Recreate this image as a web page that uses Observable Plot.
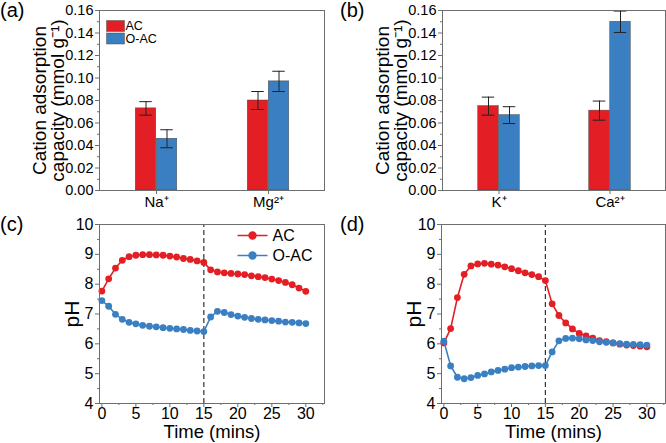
<!DOCTYPE html>
<html>
<head>
<meta charset="utf-8">
<script src="https://cdn.jsdelivr.net/npm/d3@7"></script>
<script src="https://cdn.jsdelivr.net/npm/@observablehq/plot@0.6"></script>
<style>
  html, body { margin: 0; padding: 0; background: #fff; }
  #wrap { position: relative; width: 666px; height: 443px; background: #fff; overflow: hidden;
          font-family: "Liberation Sans", Arial, sans-serif; }
  .panel { position: absolute; }
  .letter { position: absolute; font-size: 20px; color: #000; line-height: 1; }
</style>
</head>
<body>
<div id="wrap"></div>
<script>
// ---------- data ----------
const seriesNames = ["AC", "O-AC"];
const seriesColors = ["#e31e24", "#3a7fc1"];

// panel (a)
const ionsA = ["Na⁺", "Mg²⁺"];
const acA = [0.073, 0.080];
const acAErr = [0.006, 0.008];
const oacA = [0.046, 0.097];
const oacAErr = [0.008, 0.009];

// panel (b)
const ionsB = ["K⁺", "Ca²⁺"];
const acB = [0.075, 0.071];
const acBErr = [0.008, 0.0085];
const oacB = [0.067, 0.150];
const oacBErr = [0.0075, 0.0095];

const barYDomain = [0, 0.16];
const barYTicks = [0, 0.02, 0.04, 0.06, 0.08, 0.10, 0.12, 0.14, 0.16];
const barYMinor = [0.01, 0.03, 0.05, 0.07, 0.09, 0.11, 0.13, 0.15];

// panels (c), (d)
const time = [0,1,2,3,4,5,6,7,8,9,10,11,12,13,14,15,16,17,18,19,20,21,22,23,24,25,26,27,28,29,30];
const phC_AC  = [7.77,8.18,8.54,8.80,8.92,8.97,8.99,8.99,8.98,8.97,8.94,8.91,8.86,8.83,8.78,8.73,8.48,8.41,8.38,8.36,8.34,8.32,8.28,8.25,8.22,8.17,8.12,8.06,7.98,7.87,7.76];
const phC_OAC = [7.45,7.26,6.99,6.82,6.72,6.67,6.62,6.59,6.57,6.54,6.52,6.50,6.48,6.45,6.43,6.41,6.90,7.09,7.05,6.98,6.93,6.89,6.85,6.82,6.80,6.78,6.76,6.73,6.72,6.70,6.68];
const phD_AC  = [6.03,6.51,7.55,8.33,8.61,8.68,8.70,8.67,8.64,8.58,8.52,8.45,8.38,8.32,8.25,8.12,7.34,6.95,6.70,6.50,6.35,6.27,6.19,6.11,6.07,6.03,5.99,5.96,5.94,5.92,5.90];
const phD_OAC = [6.09,5.26,4.88,4.83,4.87,4.94,4.99,5.06,5.11,5.15,5.20,5.22,5.24,5.26,5.27,5.27,5.73,6.10,6.18,6.19,6.17,6.13,6.11,6.07,6.05,6.03,6.01,5.99,5.98,5.97,5.96];

const switchTime = [15];
const phDomain = [4, 10];
const phTicks = [4, 5, 6, 7, 8, 9, 10];
const phMinor = [4.5, 5.5, 6.5, 7.5, 8.5, 9.5];
const timeDomain = [-0.35, 32.75];
const timeTicks = [0, 5, 10, 15, 20, 25, 30];
const timeMinor = [2.5, 7.5, 12.5, 17.5, 22.5, 27.5, 32.5];

const barTitle = "Cation adsorption\ncapacity (mmol g⁻¹)";
const lineYTitle = "pH";
const lineXTitle = "Time (mins)";

// ---------- helpers ----------
const FONT = '"Liberation Sans", Arial, sans-serif';
const AXIS_GRAY = "#6e6e6e";
const wrap = document.getElementById("wrap");

function place(node, left, top) {
  const d = document.createElement("div");
  d.className = "panel";
  d.style.left = left + "px";
  d.style.top = top + "px";
  d.appendChild(node);
  wrap.appendChild(d);
}
function letter(txt, left, top) {
  const s = document.createElement("div");
  s.className = "letter";
  s.textContent = txt;
  s.style.left = left + "px";
  s.style.top = top + "px";
  wrap.appendChild(s);
}

const swatchSymbol = { draw(ctx) { ctx.rect(-9, -5.5, 18, 11); } };
const lineDotSymbol = { draw(ctx) { ctx.moveTo(-15, 0); ctx.lineTo(15, 0); ctx.moveTo(3.4, 0); ctx.arc(0, 0, 3.4, 0, 2 * Math.PI); } };

function barPanel(ions, ac, acErr, oac, oacErr, ml, mr, withLegend) {
  const W = 333, H = 220, mt = 10, mb = 30;
  const bw = (W - ml - mr) / ions.length;
  const barW = 21, capW = 13;
  const groups = [
    ions.map((ion, i) => ({ion, v: ac[i], e: acErr[i]})),
    ions.map((ion, i) => ({ion, v: oac[i], e: oacErr[i]}))
  ];
  const marks = [];
  groups.forEach((rows, s) => {
    const left = s === 0;
    marks.push(Plot.rectY(rows, {
      x: "ion", y: "v", fill: seriesColors[s], stroke: "#4a4a4a", strokeWidth: 0.5,
      insetLeft: left ? bw / 2 - barW : bw / 2,
      insetRight: left ? bw / 2 : bw / 2 - barW
    }));
  });
  groups.forEach((rows, s) => {
    const dx = (s === 0 ? -1 : 1) * barW / 2;
    marks.push(Plot.ruleX(rows, {x: "ion", y1: d => d.v - d.e, y2: d => d.v + d.e, dx, stroke: "#222", strokeWidth: 1}));
    marks.push(Plot.tickY(rows, {x: "ion", y: d => d.v + d.e, dx, insetLeft: (bw - capW) / 2, insetRight: (bw - capW) / 2, stroke: "#222", strokeWidth: 1}));
    marks.push(Plot.tickY(rows, {x: "ion", y: d => d.v - d.e, dx, insetLeft: (bw - capW) / 2, insetRight: (bw - capW) / 2, stroke: "#222", strokeWidth: 1}));
  });
  marks.push(Plot.axisY({ticks: barYTicks, label: null, tickSize: 4, tickPadding: 2, tickFormat: d => d.toFixed(2), stroke: AXIS_GRAY, fill: "#000", fontSize: 14.5}));
  marks.push(Plot.axisY({ticks: barYMinor, label: null, tickSize: 2, text: null, stroke: AXIS_GRAY}));
  marks.push(Plot.axisX({ticks: ions, label: null, tickSize: 4, tickPadding: 2, stroke: AXIS_GRAY, fill: "#000", fontSize: 15}));
  marks.push(Plot.text([barTitle], {text: d => d, frameAnchor: "left", textAnchor: "middle", lineAnchor: "middle", dx: -50, rotate: -90, fontSize: 19, lineHeight: 0.9, fill: "#000"}));
  marks.push(Plot.frame({stroke: AXIS_GRAY, strokeWidth: 1}));
  if (withLegend) {
    seriesNames.forEach((name, s) => {
      marks.push(Plot.dot([name], {frameAnchor: "top-left", dx: 16, dy: 15.5 + s * 12.5, symbol: swatchSymbol, fill: seriesColors[s], stroke: "#4a4a4a", strokeWidth: 0.5}));
      marks.push(Plot.text([name], {text: d => d, frameAnchor: "top-left", dx: 26, dy: 15.5 + s * 12.5, textAnchor: "start", lineAnchor: "middle", fontSize: 12.5, fill: "#000"}));
    });
  }
  return Plot.plot({
    width: W, height: H, marginLeft: ml, marginRight: mr, marginTop: mt, marginBottom: mb,
    style: {fontFamily: FONT, fontSize: "14.5px", color: "#000", background: "transparent", overflow: "visible"},
    x: {type: "band", domain: ions, padding: 0, axis: null},
    y: {domain: barYDomain, axis: null},
    marks
  });
}

function linePanel(acVals, oacVals, ml, mr, withLegend) {
  const W = 333, H = 223, mt = 4, mb = 40;
  const marks = [];
  marks.push(Plot.ruleX(switchTime, {x: d => d, y1: phDomain[0], y2: phDomain[1], stroke: "#333", strokeWidth: 1.2, strokeDasharray: "5,3"}));
  [acVals, oacVals].forEach((vals, s) => {
    const rows = time.map((t, i) => ({t, ph: vals[i]}));
    marks.push(Plot.line(rows, {x: "t", y: "ph", stroke: seriesColors[s], strokeWidth: 1.6}));
    marks.push(Plot.dot(rows, {x: "t", y: "ph", r: 3.4, fill: seriesColors[s]}));
  });
  marks.push(Plot.axisY({ticks: phTicks, label: null, tickFormat: d => String(d), tickSize: 4, tickPadding: 2, stroke: AXIS_GRAY, fill: "#000", fontSize: 16}));
  marks.push(Plot.axisY({ticks: phMinor, label: null, tickSize: 2, text: null, stroke: AXIS_GRAY}));
  marks.push(Plot.axisX({ticks: timeTicks, label: null, tickFormat: d => String(d), tickSize: 4, tickPadding: 0, stroke: AXIS_GRAY, fill: "#000", fontSize: 16}));
  marks.push(Plot.axisX({ticks: timeMinor, label: null, tickSize: 2, text: null, stroke: AXIS_GRAY}));
  marks.push(Plot.text([lineYTitle], {text: d => d, frameAnchor: "left", textAnchor: "middle", lineAnchor: "middle", dx: -27, rotate: -90, fontSize: 21, fill: "#000"}));
  marks.push(Plot.text([lineXTitle], {text: d => d, frameAnchor: "bottom", textAnchor: "middle", lineAnchor: "middle", dy: 28.5, fontSize: 18.5, fill: "#000"}));
  marks.push(Plot.frame({stroke: AXIS_GRAY, strokeWidth: 1}));
  if (withLegend) {
    seriesNames.forEach((name, s) => {
      marks.push(Plot.dot([name], {frameAnchor: "top-right", dx: -72, dy: 11 + s * 20, symbol: lineDotSymbol, fill: seriesColors[s], stroke: seriesColors[s], strokeWidth: 1.6}));
      marks.push(Plot.text([name], {text: d => d, frameAnchor: "top-right", dx: -52, dy: 11 + s * 20, textAnchor: "start", lineAnchor: "middle", fontSize: 16, fill: "#000"}));
    });
  }
  return Plot.plot({
    width: W, height: H, marginLeft: ml, marginRight: mr, marginTop: mt, marginBottom: mb,
    style: {fontFamily: FONT, fontSize: "16px", color: "#000", background: "transparent", overflow: "visible"},
    x: {domain: timeDomain, axis: null},
    y: {domain: phDomain, axis: null},
    marks
  });
}

place(barPanel(ionsA, acA, acAErr, oacA, oacAErr, 99, 9, true), 0, 0);
place(barPanel(ionsB, acB, acBErr, oacB, oacBErr, 109, 1, false), 333, 0);
place(linePanel(phC_AC, phC_OAC, 99, 9, true), 0, 220);
place(linePanel(phD_AC, phD_OAC, 108, 1, false), 333, 220);

letter("(a)", 0, 0);
letter("(b)", 340, 0);
letter("(c)", 0, 214);
letter("(d)", 340, 214);
</script>
</body>
</html>
